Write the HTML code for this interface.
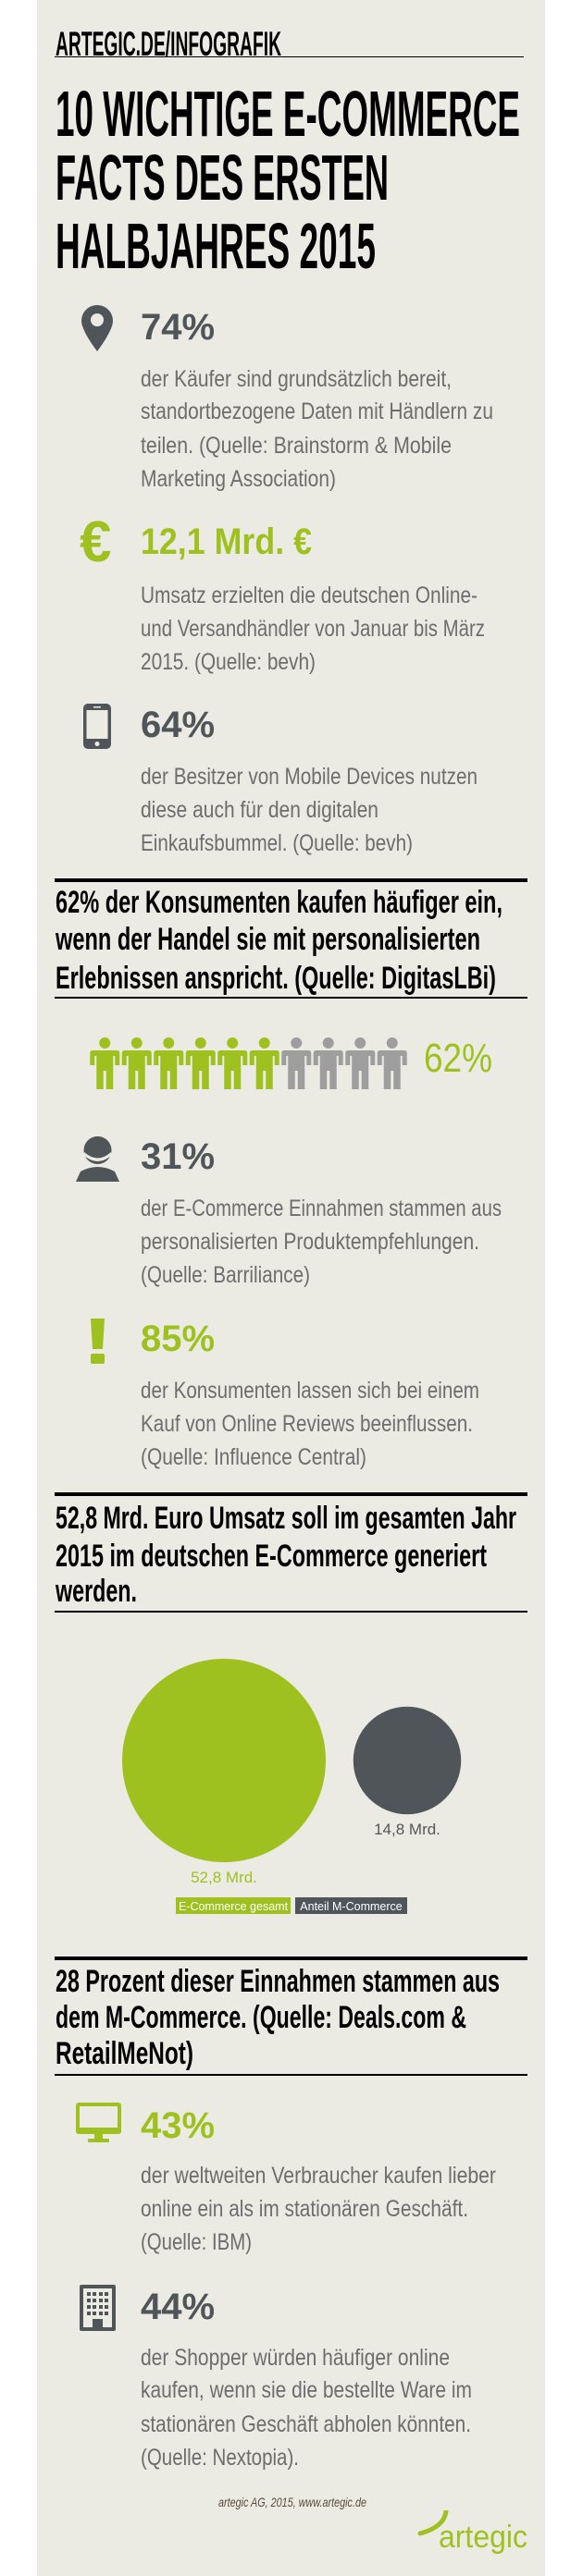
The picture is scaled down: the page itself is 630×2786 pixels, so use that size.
<!DOCTYPE html>
<html><head><meta charset="utf-8">
<style>
html,body{margin:0;padding:0;background:#fff;}
body{width:630px;height:2786px;position:relative;overflow:hidden;font-family:"Liberation Sans",sans-serif;}
#panel{position:absolute;left:40px;top:0;width:549px;height:2786px;background:#ebebe3;}
.f{position:absolute;white-space:nowrap;display:inline-block;transform-origin:0 0;}
.cond{font-weight:bold;color:#000;}
.num{font-weight:bold;font-size:40px;line-height:40px;}
.g{color:#9fc120;}
.d{color:#50555a;}
.body{font-size:25px;line-height:36px;color:#6d6d6d;left:152px;}
.rule{position:absolute;left:59px;width:511px;background:#000;}
</style></head><body>
<div id="panel"></div>

<div class="f cond" style="left:60px;top:29px;font-size:37px;line-height:37px" data-w="244">ARTEGIC.DE/INFOGRAFIK</div>
<div class="rule" style="top:61px;height:1px;left:59px;width:507px"></div>

<div class="f cond" style="left:60px;top:88px;font-size:70px;line-height:70px" data-w="502">10 WICHTIGE E-COMMERCE</div>
<div class="f cond" style="left:60px;top:157px;font-size:70px;line-height:70px" data-w="360">FACTS DES ERSTEN</div>
<div class="f cond" style="left:60px;top:231px;font-size:70px;line-height:70px" data-w="346">HALBJAHRES 2015</div>

<!-- fact 1 -->
<svg style="position:absolute;left:88px;top:330px" width="34" height="50" viewBox="0 0 34 50"><path d="M17 0C7.6 0 0 7.6 0 17c0 11 17 33 17 33s17-22 17-33C34 7.6 26.4 0 17 0z" fill="#50555a"/><circle cx="17" cy="16" r="7" fill="#ebebe3"/></svg>
<div class="f num d" style="left:152px;top:334px">74%</div>
<div class="f body" style="top:392px" data-w="336">der Käufer sind grundsätzlich bereit,</div>
<div class="f body" style="top:427px" data-w="381">standortbezogene Daten mit Händlern zu</div>
<div class="f body" style="top:464px" data-w="336">teilen. (Quelle: Brainstorm &amp; Mobile</div>
<div class="f body" style="top:500px" data-w="211">Marketing Association)</div>

<!-- fact 2 -->
<div class="f g" style="left:86px;top:556px;font-size:62px;line-height:62px;font-weight:bold">€</div>
<div class="f num g" style="left:152px;top:566px" data-w="185">12,1 Mrd. €</div>
<div class="f body" style="top:626px" data-w="364">Umsatz erzielten die deutschen Online-</div>
<div class="f body" style="top:662px" data-w="372">und Versandhändler von Januar bis März</div>
<div class="f body" style="top:698px" data-w="189">2015. (Quelle: bevh)</div>

<!-- fact 3 -->
<svg style="position:absolute;left:90px;top:761px" width="30" height="49" viewBox="0 0 30 49"><rect x="0" y="0" width="30" height="49" rx="5" fill="#50555a"/><rect x="3.5" y="7" width="23" height="31" fill="#ebebe3"/><circle cx="15" cy="43.5" r="2.5" fill="#ebebe3"/><rect x="11" y="3" width="8" height="1.5" fill="#ebebe3"/></svg>
<div class="f num d" style="left:152px;top:764px">64%</div>
<div class="f body" style="top:822px" data-w="364">der Besitzer von Mobile Devices nutzen</div>
<div class="f body" style="top:858px" data-w="257">diese auch für den digitalen</div>
<div class="f body" style="top:894px" data-w="294">Einkaufsbummel. (Quelle: bevh)</div>

<!-- headline A -->
<div class="rule" style="top:950px;height:4px"></div>
<div class="f cond" style="left:60px;top:959px;font-size:34px;line-height:34px" data-w="483">62% der Konsumenten kaufen häufiger ein,</div>
<div class="f cond" style="left:60px;top:999px;font-size:34px;line-height:34px" data-w="459">wenn der Handel sie mit personalisierten</div>
<div class="f cond" style="left:60px;top:1041px;font-size:34px;line-height:34px" data-w="476">Erlebnissen anspricht. (Quelle: DigitasLBi)</div>
<div class="rule" style="top:1078px;height:2px"></div>

<svg id="people" style="position:absolute;left:0;top:0" width="630" height="1200"></svg>
<div class="f g" id="peopleLabel" style="left:458px;top:1123px;font-size:44px;line-height:44px" data-w="74"></div>

<!-- fact 31 -->
<svg style="position:absolute;left:82px;top:1229px" width="47" height="49" viewBox="0 0 47 49"><ellipse cx="23.5" cy="15" rx="15" ry="15" fill="#50555a"/><path d="M9 17 Q23.5 30 38 17 L38 21 Q23.5 33 9 21z" fill="#ebebe3"/><path d="M0 49 L5 38 Q23.5 28 42 38 L47 49z" fill="#50555a"/></svg>
<div class="f num d" style="left:152px;top:1231px">31%</div>
<div class="f body" style="top:1289px" data-w="390">der E-Commerce Einnahmen stammen aus</div>
<div class="f body" style="top:1325px" data-w="366">personalisierten Produktempfehlungen.</div>
<div class="f body" style="top:1361px" data-w="183">(Quelle: Barriliance)</div>

<!-- fact 85 -->
<svg style="position:absolute;left:98px;top:1426px" width="15" height="49" viewBox="0 0 15 49"><path d="M0 0h15l-2 33h-11z" fill="#9fc120"/><rect x="0" y="38" width="15" height="11" rx="2" fill="#9fc120"/></svg>
<div class="f num g" style="left:152px;top:1428px">85%</div>
<div class="f body" style="top:1486px" data-w="366">der Konsumenten lassen sich bei einem</div>
<div class="f body" style="top:1522px" data-w="359">Kauf von Online Reviews beeinflussen.</div>
<div class="f body" style="top:1558px" data-w="244">(Quelle: Influence Central)</div>

<!-- headline B -->
<div class="rule" style="top:1614px;height:4px"></div>
<div class="f cond" style="left:60px;top:1625px;font-size:34px;line-height:34px" data-w="498">52,8 Mrd. Euro Umsatz soll im gesamten Jahr</div>
<div class="f cond" style="left:60px;top:1666px;font-size:34px;line-height:34px" data-w="466">2015 im deutschen E-Commerce generiert</div>
<div class="f cond" style="left:60px;top:1704px;font-size:34px;line-height:34px" data-w="88">werden.</div>
<div class="rule" style="top:1742px;height:2px"></div>

<svg id="bubbles" style="position:absolute;left:0;top:1760px" width="630" height="330"></svg>

<!-- headline C -->
<div class="rule" style="top:2116px;height:4px"></div>
<div class="f cond" style="left:60px;top:2126px;font-size:34px;line-height:34px" data-w="480">28 Prozent dieser Einnahmen stammen aus</div>
<div class="f cond" style="left:60px;top:2165px;font-size:34px;line-height:34px" data-w="444">dem M-Commerce. (Quelle: Deals.com &amp;</div>
<div class="f cond" style="left:60px;top:2204px;font-size:34px;line-height:34px" data-w="149">RetailMeNot)</div>
<div class="rule" style="top:2243px;height:2px"></div>

<!-- fact 43 -->
<svg style="position:absolute;left:82px;top:2274px" width="49" height="43" viewBox="0 0 49 43"><rect x="0" y="0" width="49" height="34" rx="3" fill="#9fc120"/><rect x="4" y="4" width="41" height="23" fill="#ebebe3"/><rect x="20" y="34" width="9" height="6" fill="#9fc120"/><rect x="13" y="39" width="23" height="4" rx="1" fill="#9fc120"/></svg>
<div class="f num g" style="left:152px;top:2279px">43%</div>
<div class="f body" style="top:2335px" data-w="384">der weltweiten Verbraucher kaufen lieber</div>
<div class="f body" style="top:2371px" data-w="354">online ein als im stationären Geschäft.</div>
<div class="f body" style="top:2407px" data-w="120">(Quelle: IBM)</div>

<!-- fact 44 -->
<svg style="position:absolute;left:86px;top:2471px" width="39" height="50" viewBox="0 0 39 50">
<rect x="0" y="0" width="39" height="50" rx="2" fill="#50555a"/><rect x="4" y="4" width="31" height="42" fill="#ebebe3"/>
<g fill="#50555a"><rect x="8" y="8" width="4" height="4"/><rect x="14" y="8" width="4" height="4"/><rect x="21" y="8" width="4" height="4"/><rect x="27" y="8" width="4" height="4"/>
<rect x="8" y="15" width="4" height="4"/><rect x="14" y="15" width="4" height="4"/><rect x="21" y="15" width="4" height="4"/><rect x="27" y="15" width="4" height="4"/>
<rect x="8" y="22" width="4" height="4"/><rect x="14" y="22" width="4" height="4"/><rect x="21" y="22" width="4" height="4"/><rect x="27" y="22" width="4" height="4"/>
<rect x="8" y="29" width="4" height="4"/><rect x="14" y="29" width="4" height="4"/><rect x="21" y="29" width="4" height="4"/><rect x="27" y="29" width="4" height="4"/>
<rect x="14" y="37" width="11" height="9"/></g></svg>
<div class="f num d" style="left:152px;top:2475px">44%</div>
<div class="f body" style="top:2532px" data-w="334">der Shopper würden häufiger online</div>
<div class="f body" style="top:2567px" data-w="358">kaufen, wenn sie die bestellte Ware im</div>
<div class="f body" style="top:2604px" data-w="357">stationären Geschäft abholen könnten.</div>
<div class="f body" style="top:2640px" data-w="171">(Quelle: Nextopia).</div>

<div class="f" style="left:236px;top:2698px;font-size:14px;line-height:16px;font-style:italic;color:#5a4a3a" data-w="160">artegic AG, 2015, www.artegic.de</div>
<svg style="position:absolute;left:450px;top:2715px" width="40" height="30" viewBox="0 0 40 30"><path d="M32 1 Q30 18 4 25" stroke="#9fc120" stroke-width="5" fill="none" stroke-linecap="round"/></svg>
<div class="f g" style="left:474px;top:2724px;font-size:34px;line-height:40px" data-w="96">artegic</div>

<script>
// people chart data
const peopleTotal = 10;
const peoplePercent = 62;

// bubble chart data
const bubbleCategories = ["E-Commerce gesamt", "Anteil M-Commerce"];
const bubbleValues = [52.8, 14.8];
const bubbleLabels = ["52,8 Mrd.", "14,8 Mrd."];

const NS = "http://www.w3.org/2000/svg";
const GREEN = "#9fc120", DARK = "#50555a", LIGHTGRAY = "#9e9e9e";

// people icons
(function(){
  const svg = document.getElementById('people');
  const x0 = 96, step = 34.5, top = 1122;
  const filled = Math.round(peoplePercent / 100 * peopleTotal);
  for (let i = 0; i < peopleTotal; i++) {
    const cx = x0 + step * i + step / 2;
    const g = document.createElementNS(NS, 'g');
    
    
    g.setAttribute('fill', i < filled ? GREEN : LIGHTGRAY);
    const head = document.createElementNS(NS, 'circle');
    head.setAttribute('cx', cx); head.setAttribute('cy', top + 6); head.setAttribute('r', 6);
    g.appendChild(head);
    const body = document.createElementNS(NS, 'path');
    const t = top + 14;
    body.setAttribute('d', `M${cx-16} ${t+3} Q${cx-16} ${t} ${cx-13} ${t} L${cx+13} ${t} Q${cx+16} ${t} ${cx+16} ${t+3} L${cx+16} ${t+16} L${cx+11} ${t+16} L${cx+11} ${t+6} L${cx+9} ${t+6} L${cx+9} ${t+42} L${cx+1.5} ${t+42} L${cx+1.5} ${t+22} L${cx-1.5} ${t+22} L${cx-1.5} ${t+42} L${cx-9} ${t+42} L${cx-9} ${t+6} L${cx-11} ${t+6} L${cx-11} ${t+16} L${cx-16} ${t+16} Z`);
    g.appendChild(body);
    svg.appendChild(g);
  }
  document.getElementById('peopleLabel').textContent = peoplePercent + '%';
})();

// bubbles
(function(){
  const svg = document.getElementById('bubbles');
  const cxs = [242, 440];     // category positions
  const cy = 144;             // baseline centre (svg coords)
  const maxR = 110;
  const maxV = Math.max(...bubbleValues);
  const rScale = v => maxR * Math.sqrt(v / maxV);
  const colors = [GREEN, DARK];
  bubbleValues.forEach((v, i) => {
    const r = rScale(v);
    const c = document.createElementNS(NS, 'circle');
    
    
    c.setAttribute('cx', cxs[i]); c.setAttribute('cy', cy); c.setAttribute('r', r);
    c.setAttribute('fill', colors[i]);
    svg.appendChild(c);
    const t = document.createElementNS(NS, 'text');
    
    
    t.setAttribute('x', cxs[i]); t.setAttribute('y', cy + r + 22);
    t.setAttribute('text-anchor', 'middle');
    t.setAttribute('font-family', 'Liberation Sans, sans-serif');
    t.setAttribute('font-size', '17');
    t.setAttribute('fill', i === 0 ? GREEN : '#555');
    t.textContent = bubbleLabels[i];
    svg.appendChild(t);
  });
  // legend
  const lx = [190, 319], lw = [124, 121], ly = 292;
  bubbleCategories.forEach((name, i) => {
    const r = document.createElementNS(NS, 'rect');
    
    
    r.setAttribute('x', lx[i]); r.setAttribute('y', ly); r.setAttribute('width', lw[i]); r.setAttribute('height', 18);
    r.setAttribute('fill', colors[i]);
    svg.appendChild(r);
    const t = document.createElementNS(NS, 'text');
    
    
    t.setAttribute('x', lx[i] + lw[i] / 2); t.setAttribute('y', ly + 14);
    t.setAttribute('text-anchor', 'middle');
    t.setAttribute('font-family', 'Liberation Sans, sans-serif');
    t.setAttribute('font-size', '12.5');
    t.setAttribute('fill', '#fff');
    t.textContent = name;
    svg.appendChild(t);
  });
})();

// fit text widths
document.querySelectorAll('[data-w]').forEach(el => {
  const target = parseFloat(el.getAttribute('data-w'));
  const w = el.getBoundingClientRect().width;
  if (w > 0) el.style.transform = 'scaleX(' + (target / w) + ')';
});
</script>
</body></html>
